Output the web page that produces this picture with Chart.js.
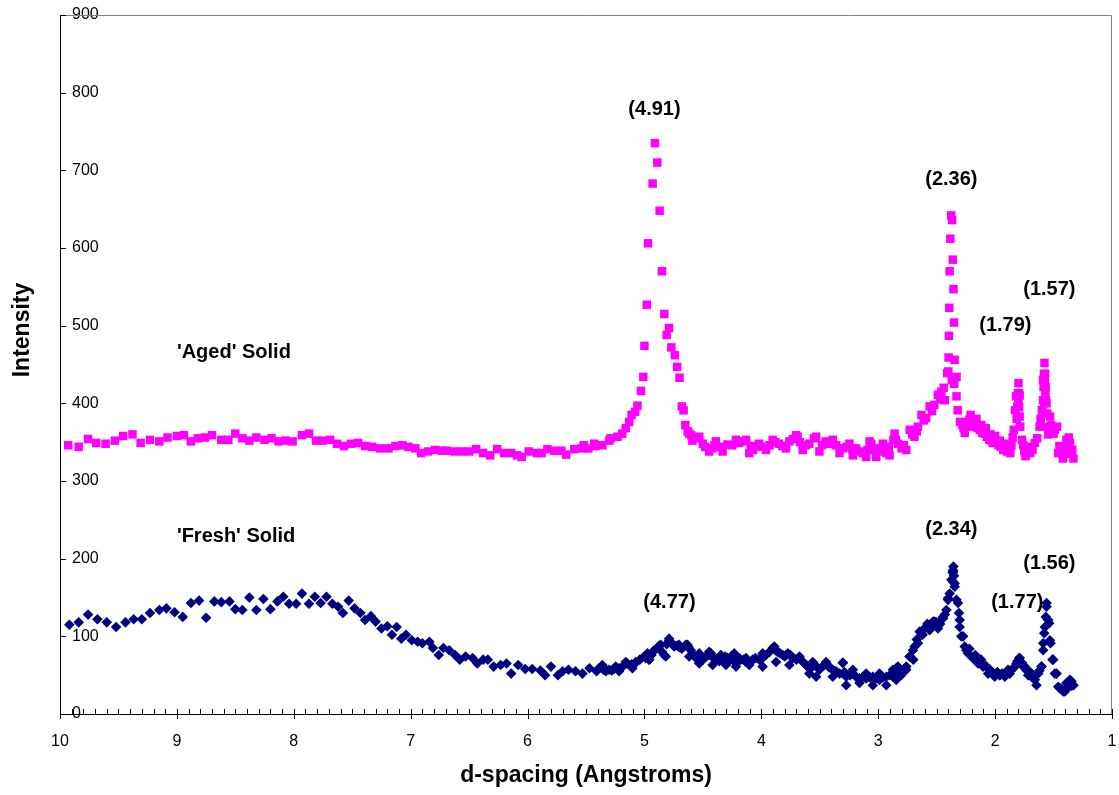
<!DOCTYPE html>
<html>
<head>
<meta charset="utf-8">
<script src="https://cdn.jsdelivr.net/npm/chart.js@4.4.1/dist/chart.umd.min.js"></script>
<style>
  body { margin: 0; background: #fff; }
  #wrap { width: 1119px; height: 795px; }
</style>
</head>
<body>
<div id="wrap"><canvas id="xrdChart" width="1119" height="795"></canvas></div>
<script>
// d-spacing (Angstroms), intensity
const agedLeft = [
  [9.93,346],[9.84,344],[9.76,354],[9.69,349],[9.61,348],[9.53,352],[9.46,358],[9.38,360],[9.31,349],[9.23,353],
  [9.15,351],[9.08,356],[9.00,358],[8.94,359],[8.88,351],[8.82,355],[8.76,356],[8.70,359],[8.62,353],[8.56,353],
  [8.50,361],[8.44,355],[8.38,352],[8.32,356],[8.25,353],[8.19,355],[8.13,351],[8.07,352],[8.01,351],[7.93,359],
  [7.87,361],[7.81,352],[7.75,352],[7.69,353],[7.63,348],[7.57,345],[7.51,348],[7.45,349],[7.39,345],[7.33,344],
  [7.26,342],[7.19,342],[7.13,345],[7.07,346],[7.02,344],[6.96,342],[6.91,336],[6.85,338],[6.79,340],[6.73,339],
  [6.69,339],[6.62,338],[6.56,338],[6.50,338],[6.44,341],[6.38,336],[6.32,333],[6.26,341],[6.20,336],[6.14,336],
  [6.09,333],[6.05,331],[5.99,338],[5.92,336],[5.88,336],[5.83,341],[5.77,339],[5.71,339],[5.67,334],[5.60,341],
  [5.54,342],[5.48,342],[5.42,345],[5.36,346],[5.30,352]
];
const agedPeak = [
  [5.52,346],[5.43,348],[5.29,355],[5.23,357],[5.19,361],[5.16,368],[5.13,376],[5.11,385],[5.08,389],[5.06,397],
  [5.03,416],[5.01,434],[5.00,474],[4.98,527],[4.97,606],[4.93,683],[4.91,735],[4.89,710],[4.87,648],[4.85,570],
  [4.83,515],[4.81,488],[4.79,497],[4.77,472],[4.74,462],[4.72,447],[4.70,433],[4.68,396],[4.665,391],[4.65,372],
  [4.63,364]
];
const agedMid = [
  [4.617,361],[4.60,359],[4.57,355],[4.531,357],[4.50,348],[4.446,338],[4.42,342],[4.389,351],[4.35,344],[4.331,338],
  [4.25,346],[4.217,353],[4.16,351],[4.131,353],[4.103,336],[4.07,340],[4.02,348],[3.96,340],[3.93,346],[3.903,353],
  [3.85,348],[3.789,342],[3.76,351],[3.703,359],[3.69,357],[3.646,340],[3.62,346],[3.55,355],[3.531,357],[3.503,338],
  [3.45,351],[3.389,353],[3.36,346],[3.331,336],[3.27,344],[3.246,348],[3.217,333],[3.19,342],[3.13,336],[3.103,331],
  [3.074,351],[3.06,348],[3.017,331],[2.99,342],[2.96,348],[2.93,336],[2.903,333],[2.87,353],[2.86,361],
  [4.59,352],[4.48,344],[4.40,346],[4.29,347],[4.19,349],[4.09,345],[4.00,344],[3.88,350],[3.82,345],[3.73,354],
  [3.67,350],[3.59,348],[3.48,346],[3.42,348],[3.30,342],[3.22,340],[3.16,338],[3.09,340],[3.04,340],[2.98,338],
  [2.91,344]
];
const agedRight = [
  [2.85,353],[2.80,342],[2.76,340],[2.73,366],[2.69,357],[2.66,370],[2.63,385],[2.59,381],[2.56,396],[2.52,398],
  [2.49,411],[2.46,415],[2.43,404],[2.41,439],[2.400,441],[2.398,459],[2.395,487],[2.392,523],[2.389,570],[2.383,612],
  [2.376,642],[2.368,636],[2.362,585],[2.356,547],[2.352,504],[2.346,456],[2.37,430],[2.35,425],[2.33,434],[2.33,409],
  [2.32,391],[2.30,376],[2.27,368],[2.25,372],[2.22,379],[2.17,374],[2.13,366],[2.09,361],[2.05,353],[2.02,349],
  [1.99,351],[1.95,344],[1.90,338],[1.86,346],[1.84,366],[1.83,391],[1.82,409],[1.81,396],[1.805,413],[1.80,426],
  [1.795,413],[1.79,383],[1.785,370],[1.77,353],[1.75,338],[1.72,342],[1.70,336],[1.66,349],[1.62,370],[1.60,391],
  [1.595,387],[1.59,404],[1.59,430],[1.585,421],[1.582,438],[1.578,452],[1.572,438],[1.568,421],[1.565,404],[1.56,400],
  [1.555,387],[1.53,383],[1.50,361],[1.47,370],[1.46,336],[1.44,340],[1.42,329],[1.39,353],[1.38,345],[1.36,349],
  [1.35,335],[1.33,329],
  [2.83,348],[2.78,346],[2.71,360],[2.67,364],[2.61,378],[2.54,390],[2.47,405],[2.44,420],[2.28,372],[2.24,376],
  [2.19,370],[2.15,368],[2.11,362],[2.07,357],[2.03,352],[1.97,346],[1.93,340],[1.88,342],[1.815,380],[1.80,400],
  [1.79,410],[1.795,395],[1.575,430],[1.57,415],[1.58,400],[1.555,370],[1.545,360],
  [2.26,362],[2.21,385],[2.16,380],[2.12,372],[2.08,368],[2.04,360],[2.00,358],[1.96,352],[1.92,348],[1.87,336],
  [1.85,356],[1.76,346],[1.74,332],[1.71,344],[1.68,340],[1.64,355],[1.61,380],[1.52,372],[1.49,366],[1.45,345],
  [1.41,338],[1.37,356],[1.34,340]
];

const freshLeft = [
  [9.92,115],[9.84,118],[9.76,128],[9.68,122],[9.60,118],[9.52,112],[9.44,118],[9.37,122],[9.30,122],[9.23,130],
  [9.15,134],[9.09,136],[9.02,131],[8.95,125],[8.88,143],[8.81,146],[8.75,124],[8.68,145],[8.62,144],[8.55,145],
  [8.50,135],[8.44,134],[8.38,150],[8.32,134],[8.26,148],[8.20,135],[8.14,145],[8.09,151],[8.04,142],[7.98,142],
  [7.93,155],[7.87,142],[7.82,151],[7.77,143],[7.72,151],[7.67,142],[7.62,138],[7.58,130],[7.53,146],[7.48,136],
  [7.43,130],[7.39,121],[7.34,126],[7.30,119],[7.25,110],[7.20,113],[7.16,102],[7.12,112],[7.08,97],[7.04,102],
  [6.99,95],[6.94,93],[6.90,91],[6.84,93],[6.81,85],[6.76,76],[6.72,85],[6.67,82],[6.62,76],[6.58,70],
  [6.53,74],[6.47,72],[6.43,65],[6.38,70],[6.34,70],[6.29,61],[6.23,63],[6.18,65],[6.14,52],[6.08,63],
  [6.02,58],[5.96,58],[5.89,56],[5.85,50],[5.80,61],[5.74,50],[5.70,55],[5.65,57],[5.59,55],[5.53,52],
  [5.47,59],[5.41,55],[5.35,57],[5.28,56]
];
const freshMid = [
  [5.389,59],[5.303,57],[5.217,59],[5.146,65],[5.074,66],[5.003,74],[4.960,70],[4.917,82],[4.874,88],[4.831,76],
  [4.789,95],[4.746,87],[4.703,86],[4.646,89],[4.603,82],[4.574,74],[4.531,67],[4.474,74],[4.431,78],[4.389,70],
  [4.331,70],[4.289,72],[4.246,76],[4.217,61],[4.174,70],[4.131,67],[4.074,70],[4.017,70],[3.960,76],[3.903,85],
  [3.860,80],[3.817,76],[3.774,78],[3.731,72],[3.674,72],[3.631,65],[3.589,59],[3.546,63],[3.503,57],[3.446,65],
  [3.403,59],[3.360,55],[3.303,66],[3.274,48],[3.217,52],[3.160,46],[3.103,46],[3.046,48],[2.989,46],[2.931,48],
  [2.874,52],[2.846,59],[2.803,50],[2.760,61],[2.731,74],[2.703,82],[2.660,91],[2.631,106],[2.603,110],[2.560,108],
  [2.531,119],[2.489,110],[2.446,123],[2.417,134],[2.403,149],[2.389,155],[2.374,173],[2.360,185],[2.357,190],[2.362,182],
  [2.352,178],[2.358,170],[2.346,164],[2.331,147],[2.309,130],[2.303,112],[2.289,100],[2.260,87],[2.231,78],[2.189,72],
  [2.146,65],[2.103,61],[2.060,52],[2.003,48],[1.960,50],[1.917,48],[1.874,52],[1.831,61],[1.794,72],[1.760,61],
  [1.717,50],[1.674,46],[1.631,52],[1.603,61],[1.589,82],[1.580,104],[1.566,125],[1.560,143],[1.537,117],[1.526,91],
  [1.509,70],[1.489,52],[1.460,35],[1.417,29],[1.374,35],[1.346,42],[1.331,37]
];
const freshBand = [
  [5.35,60],[5.26,58],[5.18,62],[5.11,64],[5.04,70],[4.99,72],[4.94,76],[4.90,84],[4.85,80],[4.81,90],
  [4.77,92],[4.72,88],[4.68,84],[4.62,86],[4.59,78],[4.55,72],[4.50,70],[4.45,76],[4.41,72],[4.36,68],
  [4.31,74],[4.27,70],[4.23,68],[4.19,72],[4.15,70],[4.10,66],[4.05,72],[3.99,72],[3.93,80],[3.88,82],
  [3.84,78],[3.80,74],[3.75,76],[3.70,70],[3.65,68],[3.61,62],[3.57,60],[3.52,60],[3.47,62],[3.42,60],
  [3.38,56],[3.33,52],[3.29,54],[3.24,50],[3.19,48],[3.13,48],[3.07,47],[3.02,46],[2.96,47],[2.90,50],
  [2.82,54],[2.78,58]
];
const freshUpper = [
  [5.360,63],[5.246,61],[5.160,67],[5.074,67],[4.974,78],[4.860,89],[4.789,97],[4.703,89],[4.631,89],[4.531,78],
  [4.446,80],[4.346,76],[4.231,78],[4.131,72],[3.989,78],[3.889,87],[3.789,76],[3.674,74],[3.560,67],[3.446,67],
  [3.303,66],[3.217,57],[3.103,52],[2.989,52],[2.874,57],[2.831,61]
];
const freshLower = [
  [5.331,55],[5.217,55],[5.103,59],[4.960,70],[4.817,74],[4.617,74],[4.531,65],[4.417,63],[4.303,63],[4.217,65],
  [4.103,63],[3.989,61],[3.874,67],[3.760,63],[3.589,52],[3.531,48],[3.389,48],[3.274,37],[3.160,40],[3.046,37],
  [2.931,37],[2.846,44]
];
const freshRight = [
  [3.103,46],[2.989,44],[2.874,48],[2.831,57],[2.760,57],[2.731,74],[2.689,87],[2.646,106],[2.589,112],[2.517,119],
  [2.446,125],[2.403,147],[2.360,183],[2.346,168],[2.317,143],[2.303,121],[2.274,100],[2.246,82],[2.189,72],[2.131,65],
  [2.046,57],[1.960,50],[1.889,57],[1.817,65],[1.789,72],[1.746,61],[1.689,48],[1.646,37],[1.603,61],[1.589,91],
  [1.574,112],[1.560,138],[1.546,121],[1.531,95],[1.503,70],[1.474,52],[1.446,33],[1.403,29],[1.360,44],[1.331,37],
  [2.22,84],[2.17,76],[2.12,70],[2.08,62],[2.03,55],[1.98,54],[1.94,52],[1.90,54],[1.85,58],[1.81,68],
  [1.77,66],[1.73,56],[1.70,54],[1.66,44],[1.62,56],[1.43,32],[1.39,40],[1.35,36],[2.70,70],[2.67,96],
  [2.62,102],[2.58,116],[2.54,112],[2.50,118],[2.47,116],[2.43,128]
];

// text labels on the plot, placed in data units
const peakLabels = [
  { text: '(4.91)', d: 4.914, i: 778 },
  { text: '(2.36)', d: 2.374, i: 688 },
  { text: '(1.57)', d: 1.536, i: 546 },
  { text: '(1.79)', d: 1.912, i: 500 },
  { text: "'Aged' Solid", d: 9.0, i: 466, align: 'left' },
  { text: "'Fresh' Solid", d: 9.0, i: 228, align: 'left' },
  { text: '(2.34)', d: 2.374, i: 237 },
  { text: '(1.56)', d: 1.536, i: 194 },
  { text: '(4.77)', d: 4.786, i: 144 },
  { text: '(1.77)', d: 1.810, i: 144 }
];

const FONT = "'Liberation Sans', Arial, sans-serif";
Chart.defaults.font.family = FONT;
Chart.defaults.color = '#000';

const toXY = arr => arr.map(p => ({ x: p[0], y: p[1] }));

// frame, tick marks, peak labels and y title
const xrdDecor = {
  id: 'xrdDecor',
  beforeDatasetsDraw(chart) {
    const { ctx: c, chartArea: a } = chart;
    c.save();
    c.strokeStyle = '#808080';
    c.lineWidth = 1;
    c.beginPath();
    c.moveTo(a.left, a.top + 0.5);
    c.lineTo(a.right - 0.5, a.top + 0.5);
    c.lineTo(a.right - 0.5, a.bottom);
    c.stroke();
    c.restore();
  },
  afterDraw(chart) {
    const { ctx: c, chartArea: a, scales: { x, y } } = chart;
    c.save();
    c.strokeStyle = '#000';
    c.lineWidth = 1;
    c.beginPath();
    for (let k = 10; k <= 100; k++) {
      const px = Math.round(x.getPixelForValue(k / 10)) + 0.5;
      c.moveTo(px, a.bottom - 5);
      c.lineTo(px, a.bottom + (k % 10 === 0 ? 5 : 0));
    }
    for (let v = 0; v <= 900; v += 100) {
      const py = Math.round(y.getPixelForValue(v)) + 0.5;
      c.moveTo(a.left, py);
      c.lineTo(a.left + 6, py);
    }
    c.stroke();

    c.fillStyle = '#000';
    c.font = 'bold 20px ' + FONT;
    c.textBaseline = 'middle';
    peakLabels.forEach(lab => {
      c.textAlign = lab.align || 'center';
      c.fillText(lab.text, x.getPixelForValue(lab.d), y.getPixelForValue(lab.i));
    });

    c.translate(23, 330);
    c.rotate(-Math.PI / 2);
    c.textAlign = 'center';
    c.font = 'bold 23px ' + FONT;
    c.fillText('Intensity', 0, 0);
    c.restore();
  }
};

const ctx = document.getElementById('xrdChart').getContext('2d');
new Chart(ctx, {
  type: 'scatter',
  data: {
    datasets: [{
      label: "'Aged' Solid",
      data: toXY([].concat(agedLeft, agedPeak, agedMid, agedRight)),
      pointStyle: 'rect',
      pointRadius: 6,
      backgroundColor: '#FF00FF',
      borderWidth: 0
    }, {
      label: "'Fresh' Solid",
      data: toXY([].concat(freshLeft, freshMid, freshBand, freshUpper, freshLower, freshRight)),
      pointStyle: 'rectRot',
      pointRadius: 5.3,
      backgroundColor: '#000080',
      borderWidth: 0
    }]
  },
  options: {
    responsive: false,
    animation: false,
    layout: { padding: { left: 60, top: 15, right: 7, bottom: 0 } },
    plugins: {
      legend: { display: false },
      tooltip: { enabled: false }
    },
    scales: {
      x: {
        type: 'linear',
        reverse: true,
        min: 1,
        max: 10,
        ticks: { stepSize: 1, padding: 18, font: { size: 16 }, color: '#000' },
        grid: { drawOnChartArea: false, drawTicks: false },
        border: { color: '#000', width: 1 },
        title: {
          display: true,
          text: 'd-spacing (Angstroms)',
          font: { size: 23, weight: 'bold' },
          color: '#000',
          padding: { top: 10, bottom: 6 }
        },
        afterFit: s => { s.height = 81; s.paddingLeft = 0; s.paddingRight = 0; }
      },
      y: {
        min: 0,
        max: 900,
        ticks: { stepSize: 100, mirror: true, padding: 12, font: { size: 16 }, color: '#000' },
        grid: { drawOnChartArea: false, drawTicks: false },
        border: { color: '#000', width: 1 },
        afterFit: s => { s.width = 0; s.paddingTop = 0; s.paddingBottom = 0; }
      }
    }
  },
  plugins: [xrdDecor]
});
</script>
</body>
</html>
